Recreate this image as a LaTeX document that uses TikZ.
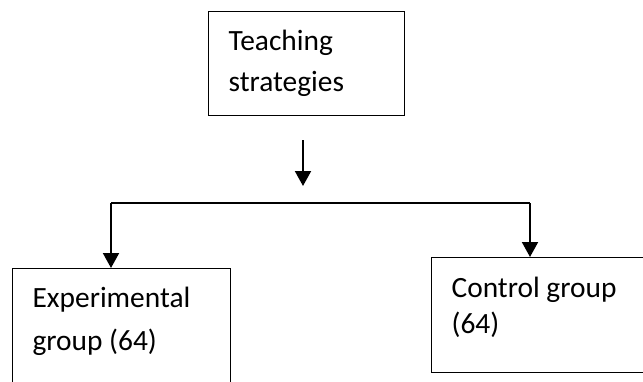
\documentclass[tikz,border=0pt]{standalone}
\usepackage{fontspec}
\setmainfont{Carlito}
\usetikzlibrary{arrows.meta}

\begin{document}
\begin{tikzpicture}[x=0.5pt,y=-0.5pt,
    group box/.style={draw,rectangle,line width=0.6pt,align=flush left,anchor=north west,inner xsep=10pt,inner ysep=0pt},
    arr/.style={-{Triangle[width=8pt,length=7.5pt]},line width=1pt}]

  \path[use as bounding box,clip] (0,0) rectangle (643,381);

  \node[group box,text width=78pt,text height=19.5pt,text depth=32.5pt,
        font=\fontsize{14.7pt}{20.5pt}\selectfont] (strategies) at (208,11) {Teaching\\strategies};

  \node[group box,text width=89pt,text height=19.5pt,text depth=61.5pt,
        font=\fontsize{14.7pt}{21.5pt}\selectfont] (experimental) at (12,268) {Experimental\\group (64)};

  \node[group box,text width=95pt,text height=20pt,text depth=37.5pt,
        font=\fontsize{14.7pt}{18pt}\selectfont] (control) at (431,257) {Control group\\(64)};

  \coordinate (drop top) at (303,140);
  \coordinate (drop tip) at (303,186);
  \coordinate (fork left) at (111,203);
  \coordinate (fork right) at (530,203);

  \draw[arr] (drop top) -- (drop tip);
  \draw[line width=0.7pt] (fork left) -- (fork right);
  \draw[arr] (fork left) -- (fork left |- experimental.north);
  \draw[arr] (fork right) -- (fork right |- control.north);

\end{tikzpicture}
\end{document}
